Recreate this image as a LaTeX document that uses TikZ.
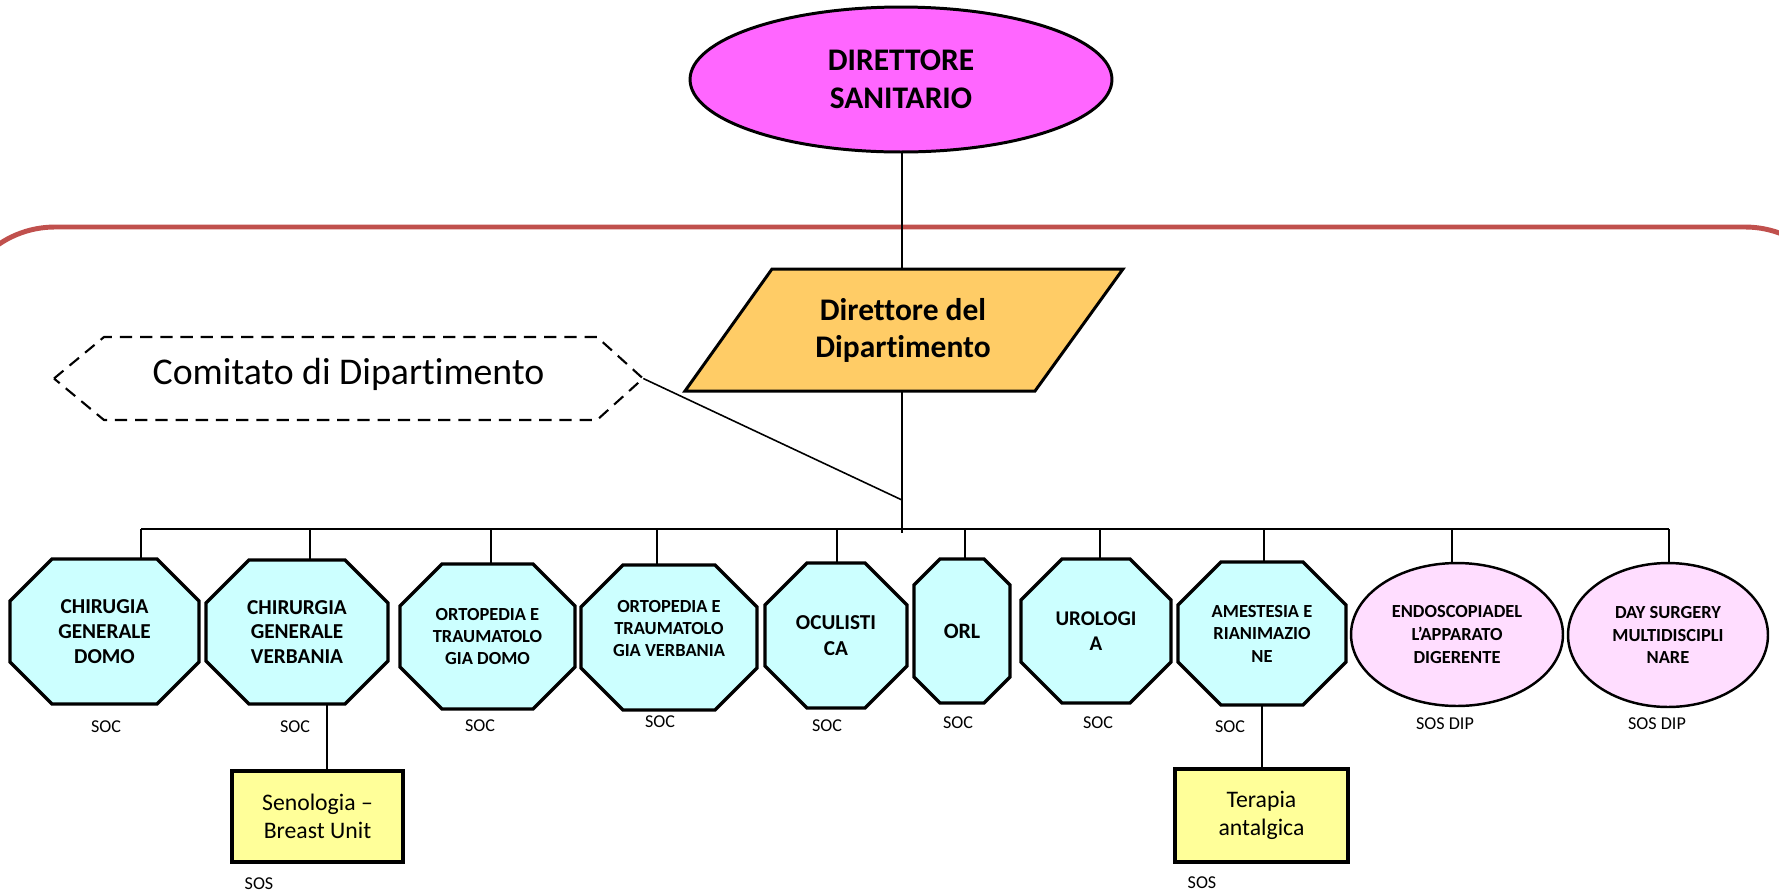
\documentclass[tikz,border=0pt]{standalone}
\usepackage{fontspec}
\setmainfont{Carlito}[Ligatures={NoCommon}]
\usetikzlibrary{shapes.geometric,calc}
\definecolor{framered}{HTML}{C0504D}
\definecolor{dsfill}{HTML}{FF66FF}
\definecolor{ddfill}{HTML}{FFCC66}
\definecolor{octfill}{HTML}{CCFFFF}
\definecolor{sosfill}{HTML}{FFDDFF}
\definecolor{boxfill}{HTML}{FFFF99}
\newcommand{\octnode}[9]{%
  \filldraw[octline] ({#2-#4/2+#6},{#3-#5/2}) -- ({#2+#4/2-#6},{#3-#5/2}) -- ({#2+#4/2},{#3-#5/2+#6}) -- ({#2+#4/2},{#3+#5/2-#6}) -- ({#2+#4/2-#6},{#3+#5/2}) -- ({#2-#4/2+#6},{#3+#5/2}) -- ({#2-#4/2},{#3+#5/2-#6}) -- ({#2-#4/2},{#3-#5/2+#6}) -- cycle;
  \node[octtext,minimum width=#4*0.02cm,minimum height=#5*0.02cm,font=\bfseries\fontsize{#7}{#8}\selectfont] (#1) at (#2,#3) {#9};}
\begin{document}
\begin{tikzpicture}[x=0.02cm,y=-0.02cm,
  conn/.style={draw=black,line width=0.9pt},
  octline/.style={draw=black,line width=1.9pt,fill=octfill,line join=miter},
  octtext/.style={inner sep=0pt,align=center},
  dsnode/.style={ellipse,draw=black,line width=1.7pt,fill=dsfill,inner sep=0pt,align=center,
     minimum width=8.44cm,minimum height=2.9cm,font=\bfseries\fontsize{17.9}{21.6}\selectfont},
  ddline/.style={draw=black,line width=1.7pt,fill=ddfill,line join=miter},
  ddnode/.style={inner sep=0pt,align=center,minimum height=2.44cm,minimum width=2cm,
     font=\bfseries\fontsize{17.9}{21}\selectfont},
  comline/.style={draw=black,line width=1.2pt,dash pattern=on 7pt off 4.5pt},
  comnode/.style={inner sep=0pt,minimum width=11.78cm,minimum height=1.66cm,
     text height=0.48cm,text depth=0.24cm,font=\fontsize{21.5}{26}\selectfont},
  sosell/.style={ellipse,draw=black,line width=1.4pt,fill=sosfill,inner sep=0pt,align=center,
     font=\bfseries\fontsize{10.5}{13}\selectfont},
  sosbox/.style={rectangle,draw=black,line width=2pt,fill=boxfill,inner sep=0pt,align=center,
     font=\fontsize{13.5}{16.2}\selectfont},
  lab/.style={inner sep=0pt,anchor=base,font=\fontsize{10.3}{12}\selectfont}]
\useasboundingbox (0,0) rectangle (1779,894);
\begin{scope}
\clip (0,0) rectangle (1779,894);
\draw[draw=framered,line width=2.8pt,rounded corners=2cm] (-45,227) rectangle (1845,1000);
\end{scope}
% top
\node[dsnode] (ds) at (901,79.5) {DIRETTORE\\SANITARIO};
\filldraw[ddline] (772,269) -- (1123,269) -- (1035,391) -- (685,391) -- cycle;
\node[ddnode] (dd) at (903,330) {Direttore del\\Dipartimento};
% comitato
\draw[comline] (54,378.5) -- (104,337) -- (597,337) -- (643,378.5) -- (597,420) -- (104,420) -- cycle;
\node[comnode] (com) at (348.5,378.5) {Comitato di Dipartimento};
% units
\octnode{o1}{104.5}{631.5}{189}{145}{42}{12.1}{14.2}{CHIRUGIA\\GENERALE\\DOMO}
\octnode{o2}{297}{632}{182}{144}{43}{12.1}{14.2}{CHIRURGIA\\GENERALE\\VERBANIA}
\octnode{o3}{487.5}{636.5}{175}{145}{42}{10.5}{12.8}{ORTOPEDIA E\\TRAUMATOLO\\GIA DOMO}
\octnode{o4}{669}{637.5}{176}{145}{42}{10.5}{12.4}{ORTOPEDIA E\\TRAUMATOLO\\GIA VERBANIA\rule[-0.36cm]{0pt}{0.36cm}}
\octnode{o5}{836}{635.5}{142}{145}{42}{12.1}{14.8}{OCULISTI\\CA}
\octnode{o6}{962}{631}{96}{144}{26}{12.5}{14.8}{ORL}
\octnode{o7}{1096}{631}{150}{144}{41}{11.9}{14.2}{UROLOGI\\A}
\octnode{o8}{1262}{633.5}{168}{143}{43}{10.5}{12.8}{AMESTESIA E\\RIANIMAZIO\\NE}
\node[sosell,minimum width=4.24cm,minimum height=2.86cm] (e9) at (1457,634.5) {ENDOSCOPIADEL\\L’APPARATO\\DIGERENTE};
\node[sosell,minimum width=4cm,minimum height=2.88cm] (e10) at (1668,635) {DAY SURGERY\\MULTIDISCIPLI\\NARE};
\node[sosbox,minimum width=3.42cm,minimum height=1.82cm] (sen) at (317.5,816.5) {Senologia –\\Breast Unit};
\node[sosbox,minimum width=3.46cm,minimum height=1.86cm] (ter) at (1261.5,815.5) {Terapia\\antalgica};
% labels
\node[lab] (l1) at (106,732) {SOC};
\node[lab] (l2) at (295,732) {SOC};
\node[lab] (l3) at (480,731) {SOC};
\node[lab] (l4) at (660,727) {SOC};
\node[lab] (l5) at (827,731) {SOC};
\node[lab] (l6) at (958,728) {SOC};
\node[lab] (l7) at (1098,728) {SOC};
\node[lab] (l8) at (1230,732) {SOC};
\node[lab] (l9) at (1445,729) {SOS DIP};
\node[lab] (l10) at (1657,729) {SOS DIP};
\node[lab] (l11) at (259,889) {SOS};
\node[lab] (l12) at (1202,888) {SOS};
% connectors
\coordinate (trunk) at (902,533);
\coordinate (j) at (902,500);
\draw[conn] (ds.south -| trunk) -- (dd.north -| trunk);
\draw[conn] (dd.south -| trunk) -- (trunk);
\draw[conn] (com.east) -- (j);
\coordinate (t1) at (141,529);
\coordinate (t2) at (310,529);
\coordinate (t3) at (491,529);
\coordinate (t4) at (657,529);
\coordinate (t5) at (837,529);
\coordinate (t6) at (965,529);
\coordinate (t7) at (1100,529);
\coordinate (t8) at (1264,529);
\coordinate (t9) at (1452,529);
\coordinate (t10) at (1669,529);
\draw[conn] (t1) -- (t10);
\foreach \i/\n in {1/o1,2/o2,3/o3,4/o4,5/o5,6/o6,7/o7,8/o8,9/e9,10/e10}{
  \draw[conn] (t\i) -- (t\i |- \n.north);
}
\draw[conn] ([xshift=0.6cm]o2.south) -- ([xshift=0.6cm]o2.south |- sen.north);
\draw[conn] (o8.south) -- (o8.south |- ter.north);
\end{tikzpicture}
\end{document}
